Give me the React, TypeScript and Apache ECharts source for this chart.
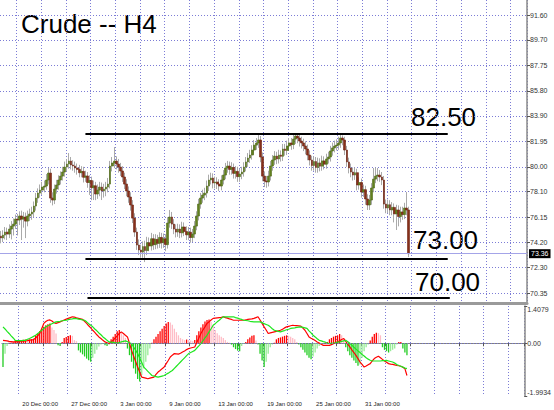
import React, { useEffect, useRef } from 'react';
import * as echarts from 'echarts';

const TITLE = 'Crude -- H4';
const TOTAL_SLOTS = 256;

const CLOSE = [74.56,74.78,75.01,74.86,75.24,75.47,75.62,76.00,75.93,76.24,
76.00,76.16,75.85,76.24,76.39,76.54,77.00,77.61,77.99,78.22,
78.45,78.53,78.99,79.52,77.61,77.46,78.30,78.61,78.99,79.29,
79.60,79.98,80.21,80.44,80.14,80.06,79.91,79.80,79.55,79.65,
79.20,79.30,78.80,78.95,78.40,78.55,77.92,78.22,78.45,78.15,
78.30,78.45,78.68,80.06,80.29,80.44,80.21,79.98,79.68,79.22,
78.68,78.15,77.69,77.08,76.08,75.01,74.02,73.64,73.48,73.90,
73.60,74.20,73.95,74.50,74.05,74.45,74.15,74.60,74.20,74.50,
74.05,75.70,76.16,75.62,75.24,75.01,75.24,74.95,75.40,75.05,
74.80,75.00,74.60,74.86,75.47,76.24,77.15,77.61,77.84,77.99,
78.53,78.99,79.14,78.76,78.84,78.68,78.53,78.99,79.37,79.91,
80.06,79.80,79.95,79.50,79.65,79.25,79.45,79.60,79.98,80.37,
80.67,80.90,81.28,81.66,81.82,82.05,80.75,79.29,78.91,78.84,
79.29,80.06,80.52,80.82,80.60,80.90,80.80,81.36,81.25,81.59,
81.82,81.70,82.12,82.35,82.20,81.97,81.82,81.59,81.36,80.90,
80.52,80.10,80.40,79.95,80.30,80.05,80.45,80.20,80.60,80.75,
81.21,81.44,81.59,81.66,81.82,82.20,82.05,81.28,80.37,79.91,
79.60,79.37,79.55,78.61,78.80,78.07,78.25,77.54,77.08,77.46,
78.38,79.06,79.29,79.37,79.22,78.99,77.15,76.85,77.10,76.70,
76.90,76.40,76.70,76.20,76.55,76.35,76.85,76.70,73.36];

const OPEN = [74.70,74.56,74.78,75.01,74.86,75.24,75.47,75.62,76.00,75.93,
76.24,76.00,76.16,75.85,76.24,76.39,76.54,77.00,77.61,77.99,
78.22,78.45,78.53,78.99,79.52,77.61,77.46,78.30,78.61,78.99,
79.29,79.60,79.98,80.21,80.44,80.14,80.06,79.91,79.80,79.55,
79.65,79.20,79.30,78.80,78.95,78.40,78.55,77.92,78.22,78.45,
78.15,78.30,78.45,78.68,80.06,80.29,80.44,80.21,79.98,79.68,
79.22,78.68,78.15,77.69,77.08,76.08,75.01,74.02,73.64,73.48,
73.90,73.60,74.20,73.95,74.50,74.05,74.45,74.15,74.60,74.20,
74.50,74.05,75.70,76.16,75.62,75.24,75.01,75.24,74.95,75.40,
75.05,74.80,75.00,74.60,74.86,75.47,76.24,77.15,77.61,77.84,
77.99,78.53,78.99,79.14,78.76,78.84,78.68,78.53,78.99,79.37,
79.91,80.06,79.80,79.95,79.50,79.65,79.25,79.45,79.60,79.98,
80.37,80.67,80.90,81.28,81.66,81.82,82.05,80.75,79.29,78.91,
78.84,79.29,80.06,80.52,80.82,80.60,80.90,80.80,81.36,81.25,
81.59,81.82,81.70,82.12,82.35,82.20,81.97,81.82,81.59,81.36,
80.90,80.52,80.10,80.40,79.95,80.30,80.05,80.45,80.20,80.60,
80.75,81.21,81.44,81.59,81.66,81.82,82.20,82.05,81.28,80.37,
79.91,79.60,79.37,79.55,78.61,78.80,78.07,78.25,77.54,77.08,
77.46,78.38,79.06,79.29,79.37,79.22,78.99,77.15,76.85,77.10,
76.70,76.90,76.40,76.70,76.20,76.55,76.35,76.85,76.70];

const HIGH = [75.10,75.15,75.40,75.35,75.60,75.85,76.05,76.35,76.40,76.60,
76.65,76.55,76.50,76.65,76.80,76.95,77.35,78.00,78.35,78.65,
78.85,78.95,79.45,79.91,79.85,78.05,78.65,79.00,79.35,79.65,
80.00,80.40,80.60,81.05,80.75,80.50,80.40,80.25,80.15,80.05,
80.00,79.70,79.60,79.35,79.25,78.95,78.85,78.65,78.85,78.80,
78.70,78.85,79.15,80.45,80.75,81.51,80.80,80.60,80.30,80.05,
79.55,79.05,78.50,78.05,77.45,76.45,75.35,74.45,74.05,74.30,
74.35,74.65,74.60,74.95,74.85,74.85,74.80,75.00,74.95,74.90,
74.85,76.15,76.70,76.55,76.00,75.60,75.65,75.60,75.80,75.75,
75.45,75.40,75.35,75.25,75.85,76.60,77.55,78.00,78.25,78.40,
78.95,79.40,79.55,79.50,79.25,79.20,79.05,79.35,79.75,80.30,
80.45,80.40,80.35,80.25,80.05,80.00,79.85,80.00,80.35,80.75,
81.05,81.30,81.65,82.05,82.20,82.45,82.35,81.10,79.65,79.30,
79.70,80.45,80.90,81.20,81.15,81.30,81.25,81.75,81.75,82.00,
82.20,82.20,82.45,82.58,82.50,82.45,82.30,82.15,81.95,81.70,
81.25,80.85,80.80,80.75,80.70,80.65,80.85,80.80,81.00,81.15,
81.60,81.85,82.00,82.10,82.30,82.45,82.40,82.30,81.60,80.70,
80.25,79.95,79.95,79.85,79.20,79.10,78.65,78.55,77.90,77.85,
78.75,79.91,79.95,79.91,79.75,79.60,79.30,77.50,77.50,77.45,
77.30,77.20,77.10,77.05,76.95,76.95,77.25,78.07,76.95];

const LOW = [74.15,74.25,74.45,74.40,74.55,74.45,74.75,75.25,74.75,75.55,
74.40,75.35,74.55,75.45,75.85,75.95,76.15,76.65,77.25,77.65,
77.85,78.05,78.25,78.65,77.25,77.05,77.15,77.95,78.25,78.65,
78.95,79.25,79.65,79.85,79.80,79.70,79.55,79.40,79.20,79.20,
78.80,78.85,78.40,77.85,77.45,77.46,77.45,77.55,77.75,77.46,
77.65,77.75,78.05,78.35,79.65,79.90,79.80,79.55,79.30,78.85,
78.30,77.75,77.25,76.65,75.70,74.65,73.65,73.25,73.05,73.05,
72.72,73.25,73.55,73.60,73.65,73.70,73.75,73.80,73.75,73.80,
73.55,73.75,75.35,75.25,74.85,74.60,74.65,74.55,74.60,74.70,
74.40,74.40,74.20,74.25,74.55,75.15,75.90,76.80,77.25,77.45,
77.65,78.15,78.65,78.35,78.35,78.30,78.15,78.20,78.65,79.05,
79.55,79.40,79.40,79.10,79.10,78.85,78.85,79.05,79.25,79.65,
80.00,80.30,80.55,80.95,81.30,81.45,80.35,78.90,78.45,78.40,
78.50,78.95,79.70,80.15,80.20,80.25,80.40,80.45,80.85,80.90,
81.25,81.30,81.35,81.75,81.80,81.55,81.40,81.20,80.95,80.50,
80.10,79.70,79.70,79.55,79.55,79.65,79.70,79.80,79.85,80.25,
80.40,80.85,81.10,81.25,81.30,81.45,81.65,80.90,80.00,79.50,
79.20,78.95,79.00,78.20,78.25,77.65,77.70,77.10,76.70,76.70,
77.10,78.05,78.75,78.90,78.85,78.60,76.80,76.45,76.45,76.30,
76.30,75.75,75.17,75.45,75.75,75.95,76.00,76.30,73.10];

const MACD = [0.11,0.10,0.09,0.07,0.06,0.05,0.05,0.06,0.07,0.08,
0.08,0.09,0.10,0.12,0.13,0.14,0.20,0.28,0.37,0.56,
0.75,0.82,0.87,0.88,0.84,0.78,0.75,0.78,0.81,0.84,
0.88,0.91,0.94,0.97,1.00,0.99,0.96,0.94,0.92,0.90,
0.83,0.75,0.66,0.58,0.49,0.41,0.32,0.24,0.18,0.11,
0.05,0.02,-0.01,0.05,0.11,0.20,0.28,0.37,0.43,0.37,
0.30,0.24,0.00,-0.27,-0.48,-0.69,-0.90,-1.09,-1.28,-1.30,
-1.32,-1.34,-1.32,-1.30,-1.28,-1.18,-1.09,-1.03,-0.96,-0.90,
-0.77,-0.65,-0.52,-0.45,-0.39,-0.40,-0.41,-0.38,-0.33,-0.29,
-0.24,-0.20,-0.18,-0.16,-0.14,0.03,0.20,0.37,0.50,0.62,
0.75,0.81,0.88,0.94,0.95,0.96,0.97,0.98,1.00,0.97,
0.95,0.92,0.90,0.87,0.87,0.87,0.87,0.87,0.87,0.88,
0.90,0.91,0.92,0.94,0.97,1.00,0.88,0.75,0.62,0.50,
0.37,0.39,0.41,0.43,0.45,0.47,0.49,0.53,0.58,0.62,
0.64,0.66,0.68,0.67,0.67,0.66,0.65,0.57,0.49,0.37,
0.24,0.19,0.15,0.10,0.05,0.01,-0.04,-0.08,-0.08,-0.08,
-0.08,-0.05,-0.02,0.02,0.05,0.09,0.14,0.18,0.07,-0.03,
-0.14,-0.25,-0.35,-0.46,-0.58,-0.71,-0.80,-0.90,-0.86,-0.81,
-0.77,-0.67,-0.58,-0.53,-0.49,-0.55,-0.61,-0.67,-0.72,-0.77,
-0.79,-0.80,-0.82,-0.84,-0.85,-0.87,-0.91,-0.96,-1.22];

const SIGNAL = [0.62,0.54,0.45,0.37,0.28,0.20,0.11,0.10,0.10,0.10,
0.11,0.11,0.15,0.18,0.22,0.26,0.30,0.36,0.43,0.49,
0.56,0.62,0.66,0.70,0.74,0.78,0.81,0.82,0.83,0.85,
0.86,0.87,0.89,0.91,0.92,0.94,0.93,0.91,0.90,0.88,
0.87,0.81,0.74,0.68,0.62,0.54,0.47,0.39,0.32,0.24,
0.18,0.11,0.05,0.04,0.03,0.02,0.01,0.03,0.05,0.07,
0.09,0.06,0.02,-0.01,-0.14,-0.26,-0.39,-0.56,-0.73,-0.90,
-0.98,-1.06,-1.14,-1.22,-1.24,-1.26,-1.28,-1.26,-1.24,-1.22,
-1.17,-1.13,-1.08,-1.03,-0.95,-0.87,-0.79,-0.71,-0.63,-0.55,
-0.47,-0.39,-0.35,-0.31,-0.27,-0.18,-0.10,-0.01,0.09,0.20,
0.30,0.43,0.55,0.68,0.74,0.81,0.87,0.94,1.00,1.00,
1.00,1.00,1.00,1.00,0.97,0.95,0.92,0.90,0.87,0.86,
0.85,0.83,0.82,0.81,0.81,0.81,0.81,0.78,0.74,0.71,
0.68,0.62,0.55,0.49,0.47,0.45,0.43,0.46,0.48,0.51,
0.53,0.56,0.57,0.58,0.60,0.61,0.62,0.60,0.58,0.56,
0.47,0.39,0.30,0.24,0.17,0.11,0.09,0.06,0.04,0.01,
-0.01,0.00,0.01,0.02,0.04,0.05,0.07,0.09,0.11,0.06,
0.00,-0.07,-0.15,-0.22,-0.29,-0.35,-0.42,-0.48,-0.55,-0.60,
-0.64,-0.67,-0.67,-0.67,-0.67,-0.67,-0.66,-0.66,-0.65,-0.67,
-0.69,-0.71,-0.75,-0.80,-0.84,-0.87,-0.90,-0.94,-0.96];

const HIST = [-0.90,-0.40,-0.10,0.02,0.03,0.04,0.10,0.11,0.12,0.12,
0.13,0.14,0.12,0.14,0.15,0.17,0.30,0.38,0.46,0.55,
0.62,0.68,0.72,0.75,0.60,0.50,0.37,-0.08,-0.10,0.05,
0.20,0.24,0.27,0.30,0.28,0.12,0.08,-0.27,-0.35,-0.42,
-0.50,-0.58,-0.64,-0.70,-0.55,-0.40,-0.25,-0.12,-0.05,-0.02,
-0.08,-0.10,-0.06,0.15,0.25,0.35,0.45,0.50,0.42,0.30,
0.20,-0.20,-0.45,-0.70,-0.95,-1.15,-1.35,-1.45,-1.20,-0.95,
-0.70,-0.45,-0.20,0.02,0.15,0.25,0.35,0.45,0.55,0.65,
0.75,0.80,0.78,0.70,0.55,0.42,0.30,0.20,0.15,0.12,
0.14,0.12,0.10,0.08,0.12,0.30,0.45,0.60,0.72,0.82,
0.88,0.90,0.80,0.65,0.50,0.38,0.30,0.25,0.20,0.12,
0.05,0.02,-0.05,-0.15,-0.22,-0.28,-0.30,-0.10,-0.02,0.05,
0.15,0.22,0.28,0.30,0.10,-0.05,-0.40,-0.65,-0.90,-0.70,
-0.40,-0.15,-0.05,0.02,0.15,0.20,0.22,0.25,0.28,0.30,
0.28,0.25,0.20,0.15,0.05,-0.05,-0.15,-0.25,-0.35,-0.45,
-0.55,-0.60,-0.50,-0.35,-0.20,-0.10,-0.05,-0.02,0.02,0.05,
0.15,0.20,0.25,0.28,0.30,0.35,0.30,0.20,-0.15,-0.30,
-0.45,-0.55,-0.65,-0.75,-0.85,-0.80,-0.55,-0.30,-0.15,-0.05,
0.10,0.25,0.35,0.40,0.38,0.30,-0.15,-0.25,-0.30,-0.35,
-0.30,-0.25,-0.20,-0.05,0.05,0.05,-0.20,-0.35,-0.45];

const PRICE_TICKS = [70.35, 72.30, 74.20, 76.15, 78.10, 80.00, 81.95, 83.90, 85.80, 87.75, 89.70, 91.60];
const MACD_TICKS = [-1.9934, 0, 1.4079];
const DATE_LABELS = ['20 Dec 00:00', '27 Dec 00:00', '3 Jan 00:00', '9 Jan 00:00', '13 Jan 00:00', '19 Jan 00:00', '25 Jan 00:00', '31 Jan 00:00'];
const DATE_LABEL_BARS = [8, 32, 56, 80, 104, 128, 152, 176];
const LEVELS = [82.5, 73.0, 70.0];
const LEVEL_TEXTS = ['82.50', '73.00', '70.00'];
const LEVEL_START_BARS = [41, 41, 42];
const LEVEL_END_BARS = [217, 217, 218];
const LAST_PRICE = 73.36;

const Y_MIN = 69.59;
const Y_MAX = 92.75;
const FONT = '"Liberation Sans", Arial, sans-serif';
const GRID_COLOR = '#7c7cd6';

export default function App() {
  const ref = useRef<HTMLDivElement>(null);
  useEffect(() => {
    if (!ref.current) return;
    const chart = echarts.init(ref.current, null, { renderer: 'svg' });
    const cats = Array.from({ length: TOTAL_SLOTS }, (_, i) => 'b' + i);
    const labelAt = new Map<number, string>(DATE_LABEL_BARS.map((b, k) => [b, DATE_LABELS[k]]));
    const gridAt = (i: number) => i % 12 === 8;

    const wickData = OPEN.map((o, i) => [o, CLOSE[i], LOW[i], HIGH[i]]);
    const bodyData = OPEN.map((o, i) => [o, CLOSE[i], Math.min(o, CLOSE[i]), Math.max(o, CLOSE[i])]);

    const histColor = (p: any) => {
      const i = p.dataIndex;
      const v = HIST[i];
      const prev = i > 0 ? HIST[i - 1] : v;
      if (v >= 0) return v >= prev ? '#ff0000' : '#ffbcc6';
      return v <= prev ? '#22cc22' : '#96ec96';
    };

    const dotted = { color: GRID_COLOR, type: [1, 2] as any, width: 1 };

    const levelLines = LEVELS.map((v, k) => [
      { coord: [LEVEL_START_BARS[k], v], lineStyle: { color: '#000', width: 2, type: 'solid' }, label: { show: false } },
      { coord: [LEVEL_END_BARS[k], v], label: { show: false } },
    ]);

    chart.setOption({
      animation: false,
      backgroundColor: '#fff',
      textStyle: { fontFamily: FONT },
      grid: [
        { left: 0, top: 0, width: 527, height: 303 },
        { left: 0, top: 306, width: 527, height: 90 },
      ],
      xAxis: [
        {
          type: 'category', gridIndex: 0, data: cats, boundaryGap: true,
          axisLine: { show: true, lineStyle: { color: '#9a9a9a', width: 3 } },
          axisTick: { show: false },
          axisLabel: { show: false },
          splitLine: { show: true, interval: (i: number) => gridAt(i), lineStyle: dotted },
        },
        {
          type: 'category', gridIndex: 1, data: cats, boundaryGap: true,
          axisLine: { show: true, lineStyle: { color: '#808080', width: 1 } },
          axisTick: { show: true, interval: (i: number) => gridAt(i), length: 3, lineStyle: { color: '#555' } },
          axisLabel: {
            show: true, interval: 0, fontSize: 6, color: '#222', fontFamily: FONT, align: 'left', margin: 5,
            padding: [0, 0, 0, 3],
            formatter: (_v: string, i: number) => labelAt.get(i) ?? '',
          },
          splitLine: { show: true, interval: (i: number) => gridAt(i), lineStyle: dotted },
        },
      ],
      yAxis: [
        {
          type: 'value', gridIndex: 0, position: 'right', min: Y_MIN, max: Y_MAX,
          axisLine: { show: true, lineStyle: { color: '#8a8a8a', width: 1.5 } },
          axisTick: { show: true, length: 3, customValues: PRICE_TICKS, lineStyle: { color: '#555' } },
          axisLabel: {
            show: true, customValues: PRICE_TICKS, fontSize: 7, color: '#333', margin: 3, fontFamily: FONT,
            formatter: (v: number) => v.toFixed(2),
          },
          splitLine: { show: true, lineStyle: dotted },
        },
        {
          type: 'value', gridIndex: 1, position: 'right', min: MACD_TICKS[0], max: MACD_TICKS[2],
          axisLine: { show: true, lineStyle: { color: '#8a8a8a', width: 1.5 } },
          axisTick: { show: true, length: 3, customValues: MACD_TICKS, lineStyle: { color: '#555' } },
          axisLabel: {
            show: true, customValues: MACD_TICKS, fontSize: 7, color: '#333', margin: 3, fontFamily: FONT,
            formatter: (v: number) => (v === 0 ? '0.00' : v.toFixed(4)),
            verticalAlignMaxLabel: 'top', verticalAlignMinLabel: 'bottom',
          },
          splitLine: { show: false },
        },
      ],
      series: [
        {
          type: 'candlestick', name: 'wick', xAxisIndex: 0, yAxisIndex: 0, data: wickData, barWidth: 1,
          itemStyle: { color: '#aeaeae', color0: '#aeaeae', borderColor: '#aaaaaa', borderColor0: '#aaaaaa', borderWidth: 1 },
        },
        {
          type: 'candlestick', name: 'body', xAxisIndex: 0, yAxisIndex: 0, data: bodyData, barWidth: 2.2,
          itemStyle: { color: '#62801f', color0: '#86301a', borderColor: '#4f6a16', borderColor0: '#6e2412', borderWidth: 0.6 },
          markLine: {
            silent: true, symbol: ['none', 'none'], animation: false,
            data: [
              {
                yAxis: LAST_PRICE,
                lineStyle: { color: '#a4a4e8', width: 1, type: 'solid' },
                label: {
                  show: true, position: 'end', formatter: LAST_PRICE.toFixed(2), backgroundColor: '#000',
                  color: '#fff', fontSize: 7, padding: [1, 2], distance: 2, fontFamily: FONT,
                },
              },
              ...levelLines,
            ],
          },
        },
        {
          type: 'bar', name: 'hist', xAxisIndex: 1, yAxisIndex: 1, data: HIST, barWidth: 1.3,
          itemStyle: { color: histColor },
          markLine: {
            silent: true, symbol: ['none', 'none'], animation: false,
            data: [{ yAxis: 0, lineStyle: { ...dotted }, label: { show: false } }],
          },
        },
        {
          type: 'line', name: 'macd', xAxisIndex: 1, yAxisIndex: 1, data: MACD, showSymbol: false,
          lineStyle: { color: '#ff0000', width: 1.2 },
        },
        {
          type: 'line', name: 'signal', xAxisIndex: 1, yAxisIndex: 1, data: SIGNAL, showSymbol: false,
          lineStyle: { color: '#1ee61e', width: 1.2 },
        },
      ],
      graphic: [
        { type: 'text', left: 21, top: 11, style: { text: TITLE, font: `26px ${FONT}`, fill: '#000' } },
        { type: 'text', left: 411, top: 104, style: { text: LEVEL_TEXTS[0], font: `26px ${FONT}`, fill: '#000' } },
        { type: 'text', left: 413, top: 227, style: { text: LEVEL_TEXTS[1], font: `26px ${FONT}`, fill: '#000' } },
        { type: 'text', left: 415, top: 269, style: { text: LEVEL_TEXTS[2], font: `26px ${FONT}`, fill: '#000' } },
      ],
    });
    return () => chart.dispose();
  }, []);
  return <div ref={ref} style={{ position: 'fixed', left: 0, top: 0, width: 554, height: 410 }} />;
}
